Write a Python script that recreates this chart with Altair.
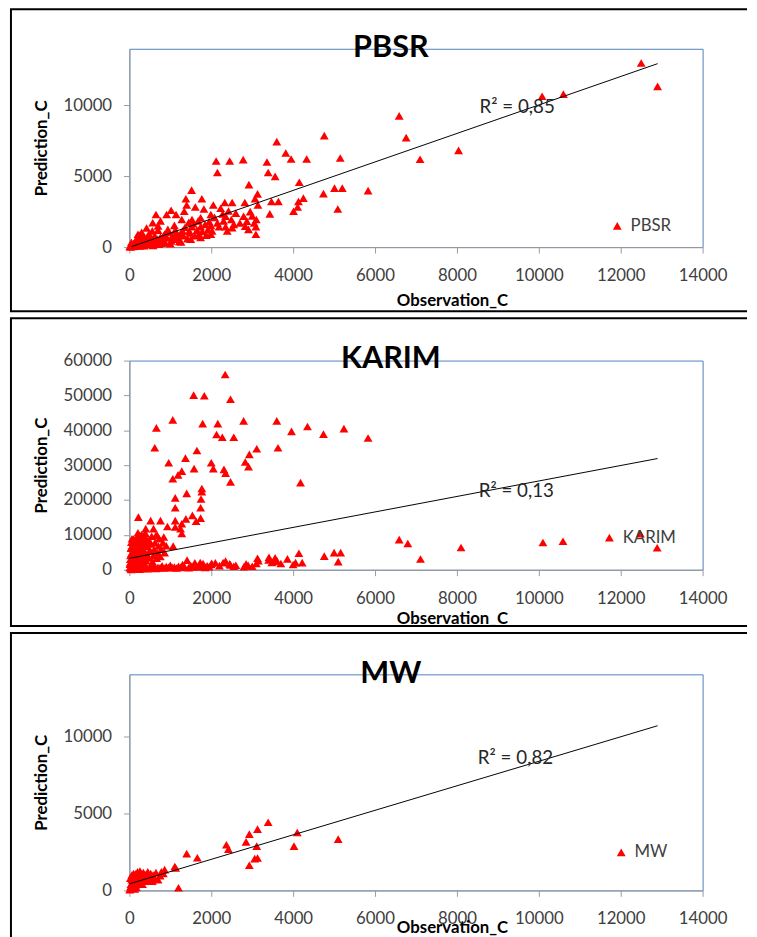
import altair as alt
import pandas as pd

FONT = "Lato"
LABEL_COLOR = "#404040"

x_ticks = [0, 2000, 4000, 6000, 8000, 10000, 12000, 14000]
y_ticks_small = [0, 5000, 10000]
y_ticks_karim = [0, 10000, 20000, 30000, 40000, 50000, 60000]

series_names = ["PBSR", "KARIM", "MW"]
r2_labels = ["R² = 0,85", "R² = 0,13", "R² = 0,82"]
r2_positions = [(8550, 9440), (8530, 20870), (8510, 8200)]

# trend lines: (obs, pred) start and end
pbsr_trend = [(50, 30), (12900, 12950)]
karim_trend = [(0, 3270), (12900, 31900)]
mw_trend = [(0, 425), (12900, 10670)]

pbsr_points = [
    (12500, 13000), (12900, 11350), (10080, 10650), (10600, 10800), (6590, 9260),
    (6760, 7730), (8040, 6830), (7100, 6200), (4760, 7870), (3600, 7450),
    (3820, 6640), (3950, 6220), (4330, 6220), (5150, 6290), (2120, 6080),
    (2450, 6080), (2780, 6180), (3360, 6010), (2150, 5270), (3390, 5270),
    (3560, 4990), (2920, 4410), (4150, 4580), (1520, 4020), (5830, 3990),
    (5010, 4160), (5200, 4160), (4740, 3780), (4250, 3460), (1380, 3410),
    (1770, 3410), (3130, 3760), (3070, 3410), (4130, 3220), (3470, 3220),
    (3640, 3220), (2820, 3150), (2330, 3150), (2510, 3150), (2050, 2970),
    (1400, 2970), (1610, 2830), (1820, 2690), (2230, 2740), (3140, 2970),
    (4110, 2830), (4010, 2530), (5090, 2690), (3430, 2350), (1020, 2600),
    (910, 2300), (650, 2300), (570, 1720), (1140, 2300), (1340, 2530),
    (1280, 1950), (1530, 1950), (1740, 2070), (1990, 2300), (2350, 2180),
    (2490, 1950), (2790, 2180), (2870, 1830), (3100, 1950), (2830, 1480),
    (2910, 1250), (3090, 1440), (3090, 910), (2510, 1370), (2350, 1440),
    (2390, 1140), (2190, 1440), (1990, 1530), (1920, 1250), (1740, 1440),
    (1700, 910), (1530, 1440), (1460, 1140), (1300, 1140), (1100, 1530),
    (1140, 910), (940, 1250), (860, 910), (700, 1200), (620, 790),
    (490, 680), (370, 560), (210, 910), (170, 510), (50, 330),
    (1500, 560), (1020, 440), (780, 280), (1260, 370), (1740, 680),
    (1990, 910), (620, 210), (290, 140), (10, 50),
    (30, 20), (60, 90), (90, 40), (120, 150), (150, 60), (180, 250),
    (200, 120), (240, 300), (260, 80), (300, 420), (330, 200), (360, 100),
    (400, 350), (420, 600), (450, 180), (480, 420), (520, 260), (550, 520),
    (580, 120), (600, 650), (640, 380), (680, 560), (720, 200), (760, 700),
    (800, 450), (840, 820), (880, 300), (920, 650), (960, 1050), (1000, 250),
    (1050, 800), (1080, 560), (1120, 1200), (1180, 700), (1220, 400), (1250, 950),
    (1320, 800), (1360, 1400), (1420, 600), (1450, 1750), (1480, 1000), (1560, 1650),
    (1600, 800), (1650, 1200), (1680, 1850), (1780, 1100), (1850, 1600), (1880, 850),
    (1950, 1800), (2020, 1150), (2080, 2100), (2150, 1700), (2280, 2350), (2300, 1850),
    (2420, 2550), (2550, 1600), (2600, 2400), (2700, 1700), (2950, 2500), (3000, 2200),
    (3050, 1700), (100, 250), (140, 400), (220, 600), (80, 150), (350, 750),
    (480, 950), (560, 1150), (700, 1500), (760, 1850), (420, 1350), (300, 1050),
    (250, 830),
]

karim_points = [
    (2340, 56000), (1570, 50100), (1830, 49900), (2470, 48900), (660, 40700),
    (1060, 43000), (1790, 41900), (2160, 41900), (2790, 42700), (3600, 42700),
    (3960, 39700), (4350, 41100), (2130, 38800), (2270, 38000), (2550, 38000),
    (620, 35000), (3630, 35000), (3110, 34700), (2930, 33100), (2830, 30900),
    (2910, 29600), (1370, 32000), (960, 30700), (1650, 34200), (2000, 30700),
    (1580, 29000), (2050, 29000), (1280, 28300), (1190, 27200), (1060, 26100),
    (2310, 28800), (2350, 27700), (2470, 25200), (4180, 25000), (1770, 23300),
    (1770, 22400), (1750, 20300), (1120, 20600), (1400, 21900), (1120, 17800),
    (1740, 17800), (1740, 14800), (1540, 15600), (1630, 13900), (1380, 14600),
    (1280, 13200), (1120, 14100), (1280, 10400), (1250, 11800), (930, 12400),
    (1120, 12250), (220, 15100), (520, 14100), (760, 14100), (1070, 6760),
    (590, 11800), (680, 9900), (840, 9400), (480, 8470), (360, 9900), (400, 11800),
    (4740, 38900), (5240, 40500), (5830, 37800),
    (1410, 2780), (1730, 2050), (2010, 1860), (2290, 2050), (2470, 1420),
    (2850, 1700), (3130, 3310), (3410, 3600), (3530, 2370), (3860, 3120),
    (4140, 4730), (4060, 2050), (4220, 2050), (4760, 3900), (5000, 4900),
    (5160, 4900), (5100, 2330), (6590, 8660), (6800, 7530), (7110, 3070),
    (8100, 6390), (10100, 7810), (10590, 8180), (12480, 10370), (12890, 6300),
    (100, 500), (200, 900), (300, 600), (400, 1200), (500, 800), (600, 1000),
    (700, 700), (800, 1100), (900, 900), (1000, 1300), (1100, 800), (1200, 1000),
    (1300, 1500), (1500, 1200), (1600, 2000), (1700, 1300), (1800, 1800), (1900, 1100),
    (2000, 1500), (2100, 2000), (2200, 1200), (2350, 2500), (2450, 1700), (2550, 1000),
    (2600, 1300), (2800, 900), (2900, 1300), (3000, 1000), (3100, 1800), (3150, 2600),
    (3400, 2800), (3480, 2100), (3560, 3400), (3600, 2600), (3700, 1800), (4000, 1500),
    (50, 100), (150, 300), (250, 200), (350, 400), (450, 300), (550, 500),
    (650, 400), (750, 600), (850, 500), (950, 700), (1050, 600), (1150, 500),
    (1250, 700), (1350, 800), (1450, 600), (1550, 900), (1650, 800), (1750, 1000),
    (1850, 700), (1950, 900),
    (20, 2000), (30, 4100), (40, 6200), (50, 7900), (60, 1100), (70, 2900),
    (80, 5100), (90, 7200), (100, 8800), (110, 2500), (120, 4600), (130, 6400),
    (140, 8500), (150, 1500), (160, 3600), (170, 5400), (180, 7600), (190, 9400),
    (210, 10600), (215, 2100), (225, 3900), (235, 6100), (245, 8100), (255, 3100),
    (265, 4900), (275, 7100), (285, 9100), (295, 10100), (305, 2200), (315, 4200),
    (325, 5900), (335, 8200), (345, 1300), (355, 3200), (365, 5100), (375, 6900),
    (385, 8900), (395, 10400), (410, 2600), (425, 4400), (445, 6600), (465, 8300),
    (485, 3400), (505, 5600), (525, 7400), (545, 9600), (565, 2300), (585, 4100),
    (605, 5800), (625, 7800), (645, 9800), (665, 3300), (690, 4800), (710, 6800),
    (730, 8900), (755, 3800), (785, 5900), (820, 7800), (860, 4900), (900, 6900),
    (10, 600), (15, 1600), (25, 3000), (35, 300), (45, 4600), (55, 6600),
    (65, 8900), (75, 400), (85, 2300),
]

mw_points = [
    (3390, 4420), (3130, 3970), (2930, 3650), (2850, 3150), (4100, 3750),
    (5100, 3320), (4020, 2870), (3110, 2870), (2370, 2960), (2420, 2680),
    (3130, 2100), (3060, 2060), (2930, 1630), (1400, 2380), (1660, 2120),
    (1110, 1550), (1130, 1450), (1200, 170), (860, 1350), (830, 1100),
    (20, 100), (40, 400), (60, 700), (80, 900), (100, 300), (120, 1000),
    (140, 600), (160, 1100), (180, 800), (200, 1200), (220, 500), (240, 900),
    (260, 1250), (280, 700), (300, 1000), (320, 400), (340, 1150), (360, 800),
    (380, 1050), (400, 600), (420, 950), (450, 1200), (480, 700), (500, 900),
    (520, 1100), (560, 600), (580, 1000), (600, 800), (650, 1150), (700, 700),
    (750, 950), (780, 1200), (50, 150), (90, 200), (130, 100), (10, 50),
    (30, 250), (70, 500), (110, 650), (150, 350), (190, 450), (60, 1000),
    (100, 1100), (25, 800), (170, 200),
]

PLOT_W = 581
MARK_SIZE = 80


def frame_layer(top, bottom, draw_bottom, right=626, left=-120):
    base = alt.Chart(pd.DataFrame({"k": [0]}))
    rules = [
        base.mark_rule(color="black", strokeWidth=2).encode(
            x=alt.value(left), y=alt.value(top), y2=alt.value(bottom)),
        base.mark_rule(color="black", strokeWidth=2).encode(
            x=alt.value(left - 1), x2=alt.value(right), y=alt.value(top)),
    ]
    if draw_bottom:
        rules.append(base.mark_rule(color="black", strokeWidth=2).encode(
            x=alt.value(left - 1), x2=alt.value(right), y=alt.value(bottom)))
    return rules


def panel(idx, pts, trend, ymax, yticks, height, frame_top, frame_bottom,
          draw_bottom, xtitle_y, title_base, legend_x, legend_y):
    name = series_names[idx]
    df = pd.DataFrame(pts, columns=["obs", "pred"])
    df["series"] = name
    tdf = pd.DataFrame(trend, columns=["obs", "pred"])
    rdf = pd.DataFrame({"obs": [r2_positions[idx][0]], "pred": [r2_positions[idx][1]],
                        "label": [r2_labels[idx]]})

    x = alt.X("obs:Q", scale=alt.Scale(domain=[0, 14000], nice=False, zero=True),
              axis=alt.Axis(values=x_ticks, grid=False, title="Observation_C",
                            labelFont=FONT, labelFontSize=17, labelColor=LABEL_COLOR,
                            labelPadding=15, labelFlush=False, labelOverlap=False,
                            tickSize=6, tickColor="#9a9a9a", domainColor="#9a9a9a",
                            titleFont=FONT, titleFontSize=17, titleFontWeight="bold",
                            titleColor="black", titleX=327, titleY=xtitle_y,
                            titleAlign="center", titleBaseline="alphabetic",
                            format="d"))
    y = alt.Y("pred:Q", scale=alt.Scale(domain=[0, ymax], nice=False, zero=True),
              axis=alt.Axis(values=yticks, grid=False, title="Prediction_C",
                            labelFont=FONT, labelFontSize=17, labelColor=LABEL_COLOR,
                            labelPadding=12, labelFlush=False, labelOverlap=False,
                            tickSize=6, tickColor="#9a9a9a", domainColor="#9a9a9a",
                            titleFont=FONT, titleFontSize=17, titleFontWeight="bold",
                            titleColor="black", titleX=-84, titleY=height / 2,
                            titleAngle=270, titleAlign="center",
                            titleBaseline="alphabetic", format="d"))

    pts_layer = alt.Chart(df).mark_point(
        shape="triangle-up", filled=True, size=MARK_SIZE, opacity=1, color="#FF0000"
    ).encode(
        x=x, y=y,
        color=alt.Color("series:N", scale=alt.Scale(domain=[name], range=["#FF0000"]),
                        legend=alt.Legend(orient="none", legendX=legend_x, legendY=legend_y,
                                          title=None, padding=0, symbolType="triangle-up",
                                          symbolSize=MARK_SIZE, symbolStrokeWidth=0,
                                          labelFont=FONT, labelFontSize=17,
                                          labelColor=LABEL_COLOR, labelOffset=5)),
    )
    line_layer = alt.Chart(tdf).mark_line(color="black", strokeWidth=1).encode(x=x, y=y)
    text_layer = alt.Chart(rdf).mark_text(
        align="left", baseline="alphabetic", font=FONT, fontSize=19, color="#262626"
    ).encode(x=x, y=y, text="label:N")
    # panel heading drawn as text, overlapping the top edge of the plot frame
    title_layer = alt.Chart(pd.DataFrame({"name": [name]})).mark_text(
        align="center", baseline="alphabetic", font=FONT, fontSize=31,
        fontWeight="bold", color="black"
    ).encode(x=alt.value(265), y=alt.value(title_base), text="name:N")

    layers = [pts_layer, line_layer, text_layer, title_layer] + frame_layer(
        frame_top, frame_bottom, draw_bottom)
    return alt.layer(*layers).properties(width=PLOT_W, height=height)


p1 = panel(0, pbsr_points, pbsr_trend, 14000, y_ticks_small, 201,
           -40, 266, True, 59, 8, 486, 171)
p2 = panel(1, karim_points, karim_trend, 60000, y_ticks_karim, 212,
           -43, 269, True, 54, 8, 478, 171)
p3 = panel(2, mw_points, mw_trend, 14000, y_ticks_small, 219,
           -42, 268, False, 43, 9, 490, 172)

chart = alt.vconcat(p1, p2, p3, spacing=3).resolve_scale(
    color="independent").resolve_legend(color="independent").properties(
    padding={"top": -7, "left": 0, "right": 0, "bottom": 0}, background="white"
).configure_view(stroke="#4F81BD", strokeWidth=1)

chart.save("out.html", embed_options={"renderer": "svg", "actions": False})
